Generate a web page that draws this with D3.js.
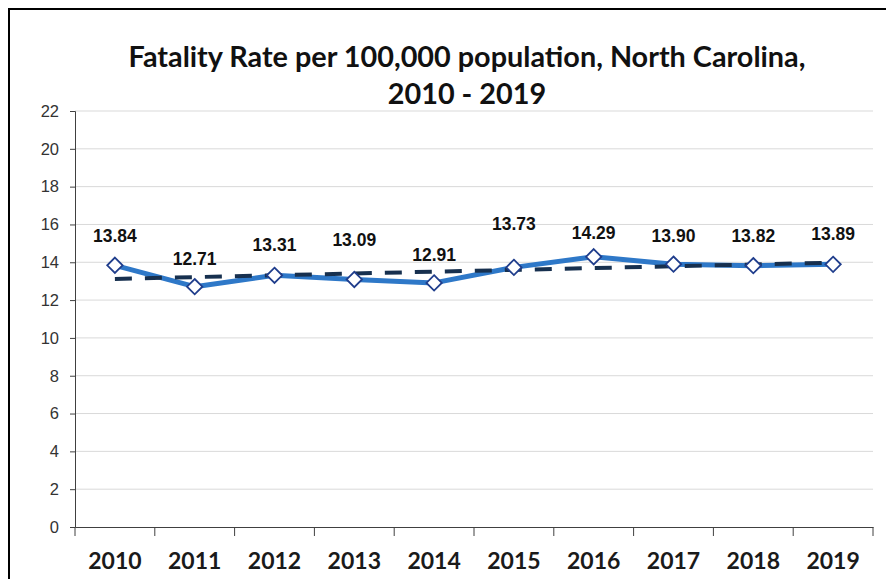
<!DOCTYPE html>
<html><head><meta charset="utf-8">
<script src="https://cdn.jsdelivr.net/npm/d3@7"></script>
<style>body{margin:0;background:#fff}svg{display:block}</style>
</head><body><svg id="c" width="886" height="579"></svg>
<script>
const years = ["2010","2011","2012","2013","2014","2015","2016","2017","2018","2019"];
const rates = [13.84,12.71,13.31,13.09,12.91,13.73,14.29,13.90,13.82,13.89];
const trendEnds = [13.12,13.98];
const yTicks = [0,2,4,6,8,10,12,14,16,18,20,22];
const labelLift = [29,28,30,39,28,43,24,28,30,30];
const titleLines = ["Fatality Rate per 100,000 population, North Carolina,","2010 - 2019"];

const svg = d3.select("#c");
svg.append("rect").attr("x",9).attr("y",9).attr("width",900).attr("height",600)
  .attr("fill","#fff").attr("stroke","#000").attr("stroke-width",2);

const m = {l:75, r:873, t:111, b:527};
const x = d3.scaleBand().domain(years).range([m.l,m.r]);
const y = d3.scaleLinear().domain([0,22]).range([m.b,m.t]);
const cx = d => x(d) + x.bandwidth()/2;

// gridlines
svg.append("g").selectAll("line").data(yTicks.slice(1)).join("line")
  .attr("x1",m.l).attr("x2",m.r).attr("y1",d=>y(d)).attr("y2",d=>y(d))
  .attr("stroke","#d9d9d9").attr("stroke-width",1);

// y axis
const ya = svg.append("g").attr("transform",`translate(${m.l},0)`)
  .call(d3.axisLeft(y).tickValues(yTicks).tickSize(5).tickPadding(11).tickFormat(d3.format("d")));
ya.select(".domain").attr("stroke","#404040");
ya.selectAll(".tick line").attr("stroke","#404040");
ya.selectAll("text").attr("font-family","Liberation Sans, Arial").attr("font-size",16.5).attr("fill","#333");

// x axis
const xa = svg.append("g").attr("transform",`translate(0,${m.b})`)
  .call(d3.axisBottom(x).tickSize(0).tickPadding(26));
xa.select(".domain").attr("stroke","#404040");
xa.selectAll("text").attr("font-family","Lato, sans-serif").attr("font-weight",700)
  .attr("font-size",23).attr("fill","#1a1a1a");
svg.append("g").selectAll("line").data(d3.range(years.length+1)).join("line")
  .attr("x1",i=>m.l+i*x.bandwidth()).attr("x2",i=>m.l+i*x.bandwidth())
  .attr("y1",m.b).attr("y2",m.b+9).attr("stroke","#404040");

// data line
svg.append("path").datum(rates.map((v,i)=>[cx(years[i]),y(v)]))
  .attr("d",d3.line()).attr("fill","none").attr("stroke","#2e78c8")
  .attr("stroke-width",5).attr("stroke-linejoin","round");

// trend line
svg.append("line")
  .attr("x1",cx(years[0])).attr("x2",cx(years[years.length-1]))
  .attr("y1",y(trendEnds[0])).attr("y2",y(trendEnds[1]))
  .attr("stroke","#17304f").attr("stroke-width",4).attr("stroke-dasharray","17,13");

// markers
svg.append("g").selectAll("path").data(rates).join("path")
  .attr("transform",(d,i)=>`translate(${cx(years[i])},${y(d)})`)
  .attr("d",d3.symbol(d3.symbolDiamond2,150))
  .attr("fill","#fff").attr("stroke","#1f3d8c").attr("stroke-width",1.8);

// labels
svg.append("g").selectAll("text").data(rates).join("text")
  .attr("x",(d,i)=>cx(years[i])).attr("y",(d,i)=>y(d)-labelLift[i]+6)
  .attr("text-anchor","middle").attr("font-family","Liberation Sans, Arial")
  .attr("font-weight",700).attr("font-size",17.5).attr("fill","#111")
  .text(d=>d.toFixed(2));

// title
svg.append("g").selectAll("text").data(titleLines).join("text")
  .attr("x",467).attr("y",(d,i)=>67+i*37).attr("text-anchor","middle")
  .attr("font-family","Lato, sans-serif").attr("font-weight",700).attr("font-size",28.8)
  .attr("fill","#111").text(d=>d);
</script></body></html>
